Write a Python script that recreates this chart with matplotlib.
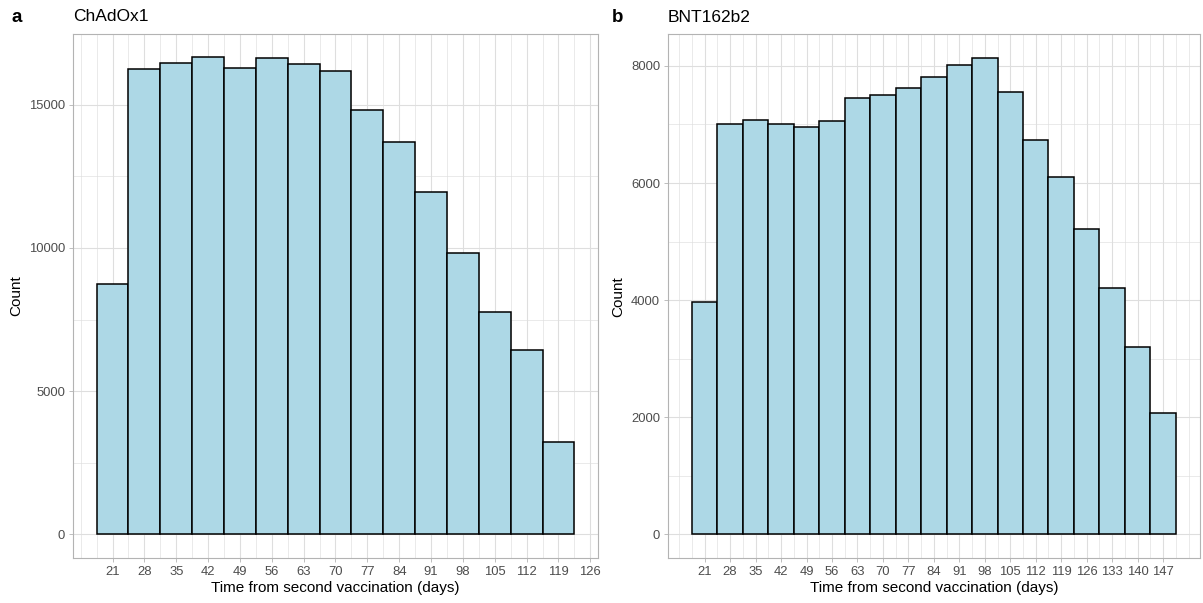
import matplotlib
matplotlib.use("Agg")
import matplotlib.pyplot as plt
from matplotlib.ticker import FixedLocator

plt.rcParams['font.family'] = ['Liberation Sans', 'DejaVu Sans']

# datos (binwidth 7 dias, centrados en multiplos de 7)
dias_a = [21, 28, 35, 42, 49, 56, 63, 70, 77, 84, 91, 98, 105, 112, 119]
conteo_a = [8740, 16235, 16444, 16654, 16284, 16619, 16409, 16190, 14829,
            13688, 11970, 9811, 7777, 6443, 3228]
ticks_a = [21, 28, 35, 42, 49, 56, 63, 70, 77, 84, 91, 98, 105, 112, 119, 126]

dias_b = [21, 28, 35, 42, 49, 56, 63, 70, 77, 84, 91, 98, 105, 112, 119,
          126, 133, 140, 147]
conteo_b = [3963, 7012, 7069, 7012, 6949, 7063, 7449, 7500, 7619, 7806,
            8011, 8137, 7546, 6740, 6103, 5212, 4212, 3202, 2066]
ticks_b = dias_b

yticks_a = [0, 5000, 10000, 15000]
yticks_b = [0, 2000, 4000, 6000, 8000]

W, H = 1203, 603
fig = plt.figure(figsize=(W / 100, H / 100), dpi=100)

grid_col = '#DEDEDE'
borde_col = '#B3B3B3'
texto_col = '#4D4D4D'


def panel(rect, dias, conteo, xticks, yticks, titulo, tag, tag_x):
    ax = fig.add_axes(rect)
    ax.bar(dias, conteo, width=7, color='#ADD8E6', edgecolor='black',
           linewidth=1.1, zorder=3)
    # limites con expansion de 5% como ggplot
    lo, hi = dias[0] - 3.5, dias[-1] + 3.5
    r = hi - lo
    ax.set_xlim(lo - 0.05 * r, hi + 0.05 * r)
    m = max(conteo)
    ax.set_ylim(-0.05 * m, 1.05 * m)
    ax.set_xticks(xticks)
    ax.set_yticks(yticks)
    # gridlines menores a mitad de camino (y extendidas) como ggplot
    xs = [xticks[0] - 7] + xticks + [xticks[-1] + 7]
    xminor = xs + [x + 3.5 for x in xs[:-1]]
    ystep = yticks[1] - yticks[0]
    ys = [yticks[0] - ystep] + yticks + [yticks[-1] + ystep]
    yminor = ys + [y + ystep / 2 for y in ys[:-1]]
    ax.xaxis.set_minor_locator(FixedLocator(xminor))
    ax.yaxis.set_minor_locator(FixedLocator(yminor))
    ax.grid(True, which='major', color=grid_col, linewidth=0.8, zorder=0)
    ax.grid(True, which='minor', color=grid_col, linewidth=0.45, zorder=0)
    ax.set_axisbelow(True)
    ax.tick_params(which='minor', length=0)
    ax.tick_params(which='major', length=3, width=0.6, color=borde_col,
                   labelsize=9.4, labelcolor=texto_col, pad=2.5)
    for s in ax.spines.values():
        s.set_color(borde_col)
        s.set_linewidth(0.8)
    ax.set_xlabel('Time from second vaccination (days)', fontsize=11,
                  labelpad=2)
    ax.set_ylabel('Count', fontsize=11, labelpad=4)
    ax.set_title(titulo, loc='left', fontsize=12.5, pad=9)
    fig.text(tag_x / W, 1 - 17 / H, tag, fontsize=13.5, fontweight='bold',
             va='center', ha='left')
    return ax


panel([72.7 / W, 1 - 558.3 / H, (598.3 - 72.7) / W, (558.3 - 33.5) / H],
      dias_a, conteo_a, ticks_a, yticks_a, 'ChAdOx1', 'a', 11)
panel([667.7 / W, 1 - 558.3 / H, (1200 - 667.7) / W, (558.3 - 34) / H],
      dias_b, conteo_b, ticks_b, yticks_b, 'BNT162b2', 'b', 612)

fig.savefig('out.png', dpi=100)
